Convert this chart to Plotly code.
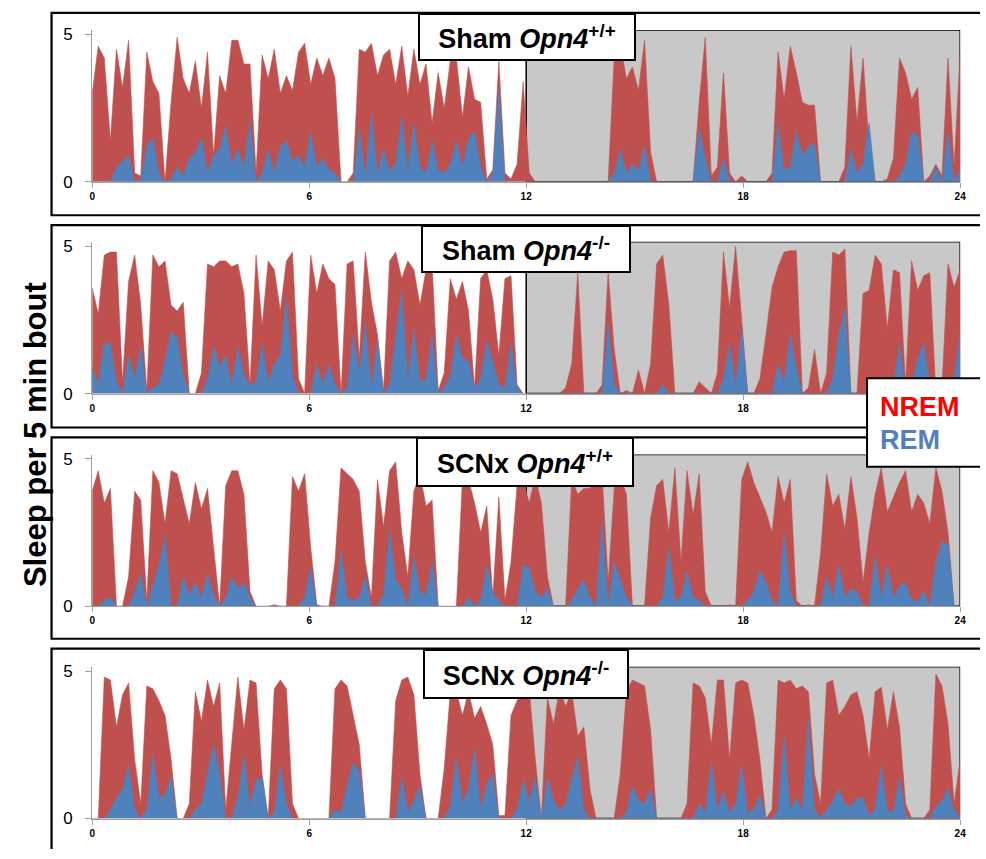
import numpy as np
import plotly.graph_objects as go

W, H = 986, 859

# 10-min bins across 24 h (ZT 0-24), values = min of sleep per 5-min bout
sham_wt_nrem = [
    3.0, 4.6, 4.2, 1.4, 4.5, 3.2, 4.8, 0.3, 0.2, 4.4, 3.4, 3.0,
    0, 2.7, 4.9, 3.5, 3.0, 4.1, 2.5, 4.4, 0.9, 3.6, 3.0, 4.8,
    4.8, 4.0, 4.0, 0.3, 4.3, 3.5, 4.5, 3.0, 3.6, 3.1, 4.4, 4.7,
    3.3, 4.2, 3.6, 4.2, 3.5, 0, 0, 0.3, 4.5, 4.4, 4.7, 3.6,
    4.3, 4.5, 3.3, 4.6, 2.9, 4.5, 3.3, 4.0, 2.0, 3.7, 2.5, 4.1,
    4.2, 2.2, 3.9, 2.8, 2.7, 0.1, 0.4, 4.1, 0.3, 0.1, 0.6, 3.4,
    0.3, 0, 0, 0, 0, 0, 0, 0, 0, 0, 0, 0,
    0, 0, 4.2, 4.7, 3.5, 3.9, 3.1, 4.8, 1.0, 0, 0, 0,
    0, 0, 0, 0, 2.7, 4.9, 0.2, 0.5, 3.7, 0.3, 0, 0.2,
    0, 0, 0, 0, 0.3, 4.4, 2.8, 4.6, 3.7, 2.7, 2.6, 2.6,
    0, 0, 0, 0, 0.5, 4.6, 2.0, 4.2, 1.2, 0, 0, 0.1,
    0.8, 4.2, 3.7, 2.8, 3.2, 0, 0.2, 0.6, 0.2, 4.2, 0.5, 4.4,
]
sham_wt_rem = [
    0, 0, 0, 0, 0.5, 0.7, 0.9, 0, 0.1, 1.2, 1.5, 0.3,
    0, 0.1, 0.5, 0.2, 0.8, 1.0, 1.5, 0.3, 0.9, 1.1, 1.9, 0.6,
    1.1, 0.5, 2.1, 0, 0.3, 1.1, 0.3, 1.2, 1.4, 0.7, 0.9, 0.5,
    1.7, 0.5, 0.8, 0.4, 0.3, 0, 0, 0, 1.8, 0.2, 2.3, 0.3,
    1.1, 0.4, 0.6, 2.2, 0.4, 2.0, 0.5, 0.3, 1.4, 0.4, 0.3, 0.6,
    1.4, 0.5, 1.5, 1.7, 0.5, 0, 0.3, 3.2, 0, 0, 0, 0,
    0, 0, 0, 0, 0, 0, 0, 0, 0, 0, 0, 0,
    0, 0, 0.3, 1.1, 0.3, 0.6, 0.4, 1.2, 0, 0, 0, 0,
    0, 0, 0, 0, 1.8, 0.8, 0, 0, 0.8, 0, 0, 0,
    0, 0, 0, 0, 0, 2.0, 0.4, 0.5, 1.7, 0.9, 1.2, 1.3,
    0, 0, 0, 0, 0, 1.1, 0.3, 0.6, 2.0, 0, 0, 0,
    0, 0.2, 0.6, 1.7, 1.6, 0, 0, 0.5, 0, 1.7, 0, 0.4,
]
sham_ko_nrem = [
    3.6, 2.7, 4.7, 4.8, 4.8, 0.4, 3.8, 4.7, 3.0, 0.1, 4.7, 4.3,
    4.5, 3.0, 2.8, 3.1, 0, 0, 0.7, 4.4, 4.3, 4.5, 4.5, 4.3,
    4.4, 3.4, 0.3, 4.7, 2.3, 4.5, 4.2, 2.8, 4.5, 4.8, 0.5, 0,
    4.7, 3.4, 4.4, 3.9, 3.7, 0, 4.4, 4.5, 1.2, 4.8, 3.1, 2.0,
    0.1, 4.5, 4.8, 3.9, 4.5, 4.2, 3.0, 4.2, 4.4, 0.1, 0.7, 3.9,
    3.2, 3.8, 2.8, 0.2, 3.9, 4.2, 3.2, 1.3, 3.9, 4.0, 0.3, 0,
    0, 0, 0, 0, 0, 0, 0.2, 1.0, 4.1, 0, 0, 0,
    0.3, 4.1, 1.5, 0, 0.1, 0, 0.8, 0, 1.0, 4.4, 4.7, 3.0,
    0, 0, 0, 0, 0.4, 0.2, 0, 0.7, 4.8, 2.9, 5.0, 2.5,
    0, 0, 0.5, 2.0, 3.6, 4.3, 4.8, 4.85, 4.85, 0, 0.2, 1.5,
    0, 0.7, 4.8, 4.7, 4.9, 0, 0, 3.4, 3.5, 4.7, 4.4, 2.2,
    4.2, 4.1, 0.3, 4.5, 3.5, 4.0, 4.1, 0, 0.2, 4.4, 3.6, 4.2,
]
sham_ko_rem = [
    0.9, 0.3, 1.7, 1.7, 0.4, 0, 1.3, 0.5, 1.6, 0, 0.2, 0.3,
    1.1, 2.1, 1.9, 0.6, 0, 0, 0, 0.5, 1.6, 0.9, 1.3, 0.3,
    1.6, 0.6, 0.3, 0.4, 1.7, 0.4, 1.0, 1.3, 3.3, 0.6, 0, 0,
    0, 1.0, 0.3, 1.0, 0.3, 0, 0.2, 2.0, 0.7, 2.4, 0.2, 1.8,
    0, 0.3, 2.0, 3.5, 0.5, 2.2, 0.4, 0.5, 2.0, 0, 0.2, 0.6,
    2.0, 1.2, 1.1, 0.2, 0.5, 1.8, 1.1, 0.3, 0.2, 1.7, 0.2, 0,
    0, 0, 0, 0, 0, 0, 0, 0, 0, 0, 0, 0,
    0, 2.4, 0.3, 0, 0, 0, 0, 0, 0, 0, 0.3, 0,
    0, 0, 0, 0, 0, 0, 0, 0, 0.5, 1.7, 0.3, 2.2,
    0, 0, 0, 0, 0, 1.0, 0.4, 2.0, 0.9, 0, 0, 0,
    0, 0, 0.5, 2.0, 2.9, 0, 0, 0, 0, 0.3, 0.3, 0.2,
    0.2, 1.7, 0, 0.3, 1.2, 1.7, 0.3, 0, 0, 0.3, 0.5, 2.0,
]
scnx_wt_nrem = [
    3.9, 4.6, 3.5, 4.0, 0, 0, 1.0, 3.9, 3.6, 0.2, 4.6, 4.2,
    2.8, 4.6, 4.5, 3.7, 2.8, 4.2, 3.3, 4.0, 2.0, 0, 4.1, 4.6,
    4.6, 3.8, 0.5, 0, 0, 0, 0.05, 0, 0, 4.4, 3.9, 4.5,
    2.0, 0.05, 0, 0, 1.5, 4.7, 4.5, 4.3, 3.9, 1.5, 0.3, 4.3,
    2.7, 4.6, 4.9, 2.5, 1.0, 3.9, 4.5, 3.4, 3.6, 0, 0, 0,
    0, 4.3, 4.3, 3.5, 2.5, 3.4, 0.3, 3.7, 0.2, 1.5, 4.1, 4.3,
    3.5, 4.4, 3.5, 1.0, 0, 0, 0, 4.3, 3.8, 4.0, 4.0, 4.3,
    4.5, 0.8, 4.0, 4.4, 3.8, 0, 0, 0, 3.0, 4.1, 4.3, 2.5,
    4.7, 1.5, 4.6, 3.1, 4.5, 0.5, 0, 0, 0, 0.05, 0, 4.3,
    4.9, 4.2, 3.7, 3.2, 2.5, 4.4, 3.5, 4.3, 0.2, 0, 0.05, 0,
    1.8, 4.5, 3.4, 3.8, 2.6, 4.4, 3.0, 0.8, 2.5, 3.8, 4.7, 3.2,
    3.7, 4.2, 4.6, 3.2, 3.8, 3.5, 2.8, 4.7, 3.9, 2.5, 0, 0,
]
scnx_wt_rem = [
    0, 0, 0.2, 0.3, 0, 0, 0, 0.5, 1.1, 0, 0.7, 1.4,
    2.4, 0, 0, 1.0, 0.4, 0.8, 0.3, 1.1, 0.4, 0, 0.3, 1.0,
    0.6, 0.8, 0.3, 0, 0, 0, 0, 0, 0, 0, 0, 0.3,
    1.3, 0, 0, 0, 0, 1.9, 0.3, 0.2, 0.3, 1.0, 0, 0,
    0.4, 2.6, 0.9, 0.6, 0, 1.7, 0.5, 0.4, 1.5, 0, 0, 0,
    0, 0, 0.3, 0, 0.2, 1.4, 0.5, 0.2, 0, 0, 0, 1.4,
    1.3, 0.5, 0.3, 0.6, 0, 0, 0, 0.2, 0.6, 0.9, 0.3, 0,
    2.9, 0, 1.5, 0.9, 0.3, 0, 0, 0, 0, 0, 0.3, 2.0,
    0.2, 0.3, 1.2, 0.3, 0.2, 0, 0, 0, 0, 0, 0, 0,
    0.2, 0.5, 1.2, 0.8, 0.2, 0, 2.5, 0.5, 0, 0, 0, 0,
    0, 1.0, 0.3, 1.4, 0.3, 0.6, 0.5, 0, 0, 1.7, 0.3, 1.4,
    0.3, 0.7, 0.8, 0.2, 0.2, 0.5, 0, 1.5, 2.2, 2.1, 0, 0,
]
scnx_ko_nrem = [
    0, 0, 4.8, 4.7, 3.1, 4.2, 4.6, 2.0, 0.5, 4.5, 4.4, 4.0,
    3.5, 2.0, 0, 0, 0.5, 4.3, 3.3, 4.7, 3.8, 4.6, 0.3, 2.5,
    4.8, 3.0, 4.7, 4.6, 1.5, 0, 4.4, 4.7, 4.4, 0.5, 0, 0,
    0, 0, 0, 0, 4.4, 4.7, 4.5, 3.5, 2.5, 0, 0, 0,
    0, 0, 4.0, 4.7, 4.8, 4.2, 1.5, 0, 0, 0, 1.7, 4.3,
    4.3, 3.5, 4.3, 3.4, 3.8, 3.2, 2.5, 0.1, 0.1, 3.5, 4.0, 4.3,
    4.4, 2.0, 0, 4.1, 3.2, 4.4, 3.8, 4.3, 2.8, 3.1, 1.0, 0,
    0, 0, 0, 1.5, 4.3, 4.7, 4.6, 4.5, 3.0, 0, 0, 0,
    0, 0, 0.5, 4.6, 4.5, 4.1, 2.5, 4.7, 4.7, 2.0, 4.6, 4.7,
    4.6, 3.5, 2.0, 0, 0.3, 4.7, 4.6, 4.7, 4.4, 4.5, 4.3, 1.5,
    0.5, 4.6, 4.7, 3.5, 3.8, 4.2, 4.3, 3.5, 2.0, 4.3, 4.45, 3.0,
    4.3, 3.1, 0.5, 0, 0, 0, 0.3, 4.9, 4.5, 3.2, 0.5, 2.0,
]
scnx_ko_rem = [
    0, 0, 0, 0.3, 0.7, 1.0, 1.8, 0.3, 0, 0.3, 2.2, 0.7,
    0.8, 1.4, 0, 0, 0, 0.3, 0.5, 1.5, 2.5, 1.5, 0, 0,
    0.7, 2.1, 0.4, 1.3, 1.4, 0, 0.2, 1.8, 0.5, 0, 0, 0,
    0, 0, 0, 0, 0.3, 0.2, 1.1, 1.9, 1.6, 0, 0, 0,
    0, 0, 0, 1.4, 0.2, 0.6, 1.1, 0, 0, 0, 0, 0.4,
    2.1, 0.5, 1.0, 2.4, 0.3, 1.2, 1.5, 0, 0, 0, 0.3, 1.3,
    0.6, 1.4, 0, 1.4, 0.6, 0.3, 0.5, 1.3, 2.1, 0.3, 0, 0,
    0, 0, 0, 0, 0.2, 1.1, 0.6, 0.5, 1.0, 0, 0, 0,
    0, 0, 0, 0, 0.5, 0.2, 1.9, 0.3, 0.9, 0.2, 0.5, 1.8,
    0.2, 0.3, 0.8, 0, 0, 0.3, 2.8, 0.3, 0.7, 0.3, 3.4, 0.3,
    0, 0.3, 0.6, 1.0, 0.5, 0.4, 0.7, 0.7, 0.1, 0.3, 1.8, 0.3,
    0.2, 1.4, 0.1, 0, 0, 0, 0, 0.4, 0.6, 1.0, 0.3, 0,
]

panel_groups = ["Sham", "Sham", "SCNx", "SCNx"]
panel_genotypes = ["+/+", "-/-", "+/+", "-/-"]
x_ticks = [0, 6, 12, 18, 24]
y_ticks = [0, 5]
dark_phase = [12, 24]

series = [
    (sham_wt_nrem, sham_wt_rem),
    (sham_ko_nrem, sham_ko_rem),
    (scnx_wt_nrem, scnx_wt_rem),
    (scnx_ko_nrem, scnx_ko_rem),
]

hours = np.linspace(0, 24, len(sham_wt_nrem))

NREM_C = "#C0504D"
REM_C = "#4F81BD"
GRAY = "#C8C8C8"

# design grid in pixels of the 986 x 859 picture, converted to paper fractions
zero_px = [180, 395.5, 612, 828]
px_per_unit = 30
ymax = 5.15
box_px = [(8, 214), (224, 430), (440, 645), (655, None)]
title_px = [(529, 32.5, 214, 44), (528, 248.5, 206, 44), (527, 465.5, 214, 46), (528, 680.5, 202, 46)]
XL, XR = 90, 966


def fx(p):
    return p / W


def fy(p):
    return 1 - p / H


fig = go.Figure()
layout = dict(
    autosize=True,
    margin=dict(l=0, r=0, t=0, b=0, pad=0),
    paper_bgcolor="white", plot_bgcolor="rgba(0,0,0,0)",
    showlegend=False,
)
shapes = []
annotations = []

for i in range(4):
    k = i + 1
    xa = "x" if k == 1 else f"x{k}"
    ya = "y" if k == 1 else f"y{k}"
    nrem, rem = series[i]
    fig.add_trace(go.Scatter(
        x=hours, y=nrem, mode="lines", fill="tozeroy",
        line=dict(color=NREM_C, width=0.6), fillcolor=NREM_C,
        xaxis=xa, yaxis=ya, hoverinfo="skip", name="NREM"))
    fig.add_trace(go.Scatter(
        x=hours, y=rem, mode="lines", fill="tozeroy",
        line=dict(color=REM_C, width=0.6), fillcolor=REM_C,
        xaxis=xa, yaxis=ya, hoverinfo="skip", name="REM"))

    z = zero_px[i]
    top = z - ymax * px_per_unit
    xkey = "xaxis" if k == 1 else f"xaxis{k}"
    ykey = "yaxis" if k == 1 else f"yaxis{k}"
    layout[xkey] = dict(
        domain=[fx(XL), fx(XR)], range=[0, 24], anchor=ya,
        tickvals=x_ticks, ticktext=[str(t) for t in x_ticks],
        ticks="outside", ticklen=5, tickcolor="#A0A0A0", tickwidth=1,
        showline=True, linecolor="#A0A0A0", linewidth=1,
        showgrid=False, zeroline=False, fixedrange=True,
        tickfont=dict(family="Liberation Sans Narrow, Liberation Sans, Arial", size=10, color="black", weight="bold"),
    )
    layout[ykey] = dict(
        domain=[fy(z), fy(top)], range=[0, ymax], anchor=xa,
        tickvals=y_ticks, ticktext=[str(t) for t in y_ticks],
        ticks="outside", ticklen=6, tickcolor="#A0A0A0", tickwidth=1,
        ticklabelstandoff=9,
        showline=True, linecolor="#A0A0A0", linewidth=1,
        showgrid=False, zeroline=False, fixedrange=True,
        tickfont=dict(family="Liberation Sans, Arial", size=17, color="black"),
    )
    # dark phase
    shapes.append(dict(type="rect", xref=xa, yref=ya, x0=dark_phase[0], x1=dark_phase[1],
                       y0=0, y1=ymax, fillcolor=GRAY, line=dict(color="black", width=1.5),
                       layer="below"))
    # panel frame (runs off the right edge; last one also off the bottom)
    b0, b1 = box_px[i]
    if b1 is None:
        path = f"M 1,{fy(b0)} L {fx(49)},{fy(b0)} L {fx(49)},0"
    else:
        path = f"M 1,{fy(b0)} L {fx(49)},{fy(b0)} L {fx(49)},{fy(b1)} L 1,{fy(b1)}"
    shapes.append(dict(type="path", xref="paper", yref="paper", path=path,
                       line=dict(color="black", width=2.2), layer="above"))
    cx, cy, bw, bh = title_px[i]
    annotations.append(dict(
        xref="paper", yref="paper", x=fx(cx), y=fy(cy), xanchor="center", yanchor="middle",
        text=f"<b>{panel_groups[i]} <i>Opn4</i><sup>{panel_genotypes[i]}</sup></b>",
        showarrow=False, bgcolor="white", bordercolor="black", borderwidth=2, borderpad=0,
        width=bw, height=bh,
        font=dict(family="Liberation Sans, Arial", size=27, color="black"),
    ))

# legend box (runs off the right edge)
shapes.append(dict(type="rect", xref="paper", yref="paper", x0=fx(872), x1=1,
                   y0=fy(470), y1=fy(380), fillcolor="white",
                   line=dict(width=0), layer="above"))
shapes.append(dict(type="path", xref="paper", yref="paper",
                   path=f"M 1,{fy(380)} L {fx(872)},{fy(380)} L {fx(872)},{fy(470)} L 1,{fy(470)}",
                   line=dict(color="black", width=2), layer="above"))
annotations.append(dict(xref="paper", yref="paper", x=fx(883), y=fy(409), xanchor="left", yanchor="middle",
                        text="<b>NREM</b>", showarrow=False,
                        font=dict(family="Liberation Sans, Arial", size=27, color="#FF0000")))
annotations.append(dict(xref="paper", yref="paper", x=fx(883), y=fy(443), xanchor="left", yanchor="middle",
                        text="<b>REM</b>", showarrow=False,
                        font=dict(family="Liberation Sans, Arial", size=27, color=REM_C)))
# y title
annotations.append(dict(xref="paper", yref="paper", x=fx(33), y=fy(437), xanchor="center", yanchor="middle",
                        text="<b>Sleep per 5 min bout</b>", textangle=-90, showarrow=False,
                        font=dict(family="Liberation Sans, Arial", size=31, color="black")))

layout["shapes"] = shapes
layout["annotations"] = annotations
fig.update_layout(**layout)
fig.write_html(
    "out.html",
    default_width="100vw",
    default_height="100vh",
    config={"displayModeBar": False, "responsive": True},
    post_script=(
        "document.documentElement.style.margin='0px';"
        "document.documentElement.style.overflow='hidden';"
        "document.body.style.margin='0px';"
        "document.body.style.overflow='hidden';"
        "var gd=document.getElementById('{plot_id}');"
        "gd.style.position='fixed';gd.style.left='0px';gd.style.top='0px';"
        "window.dispatchEvent(new Event('resize'));"
    ),
)
